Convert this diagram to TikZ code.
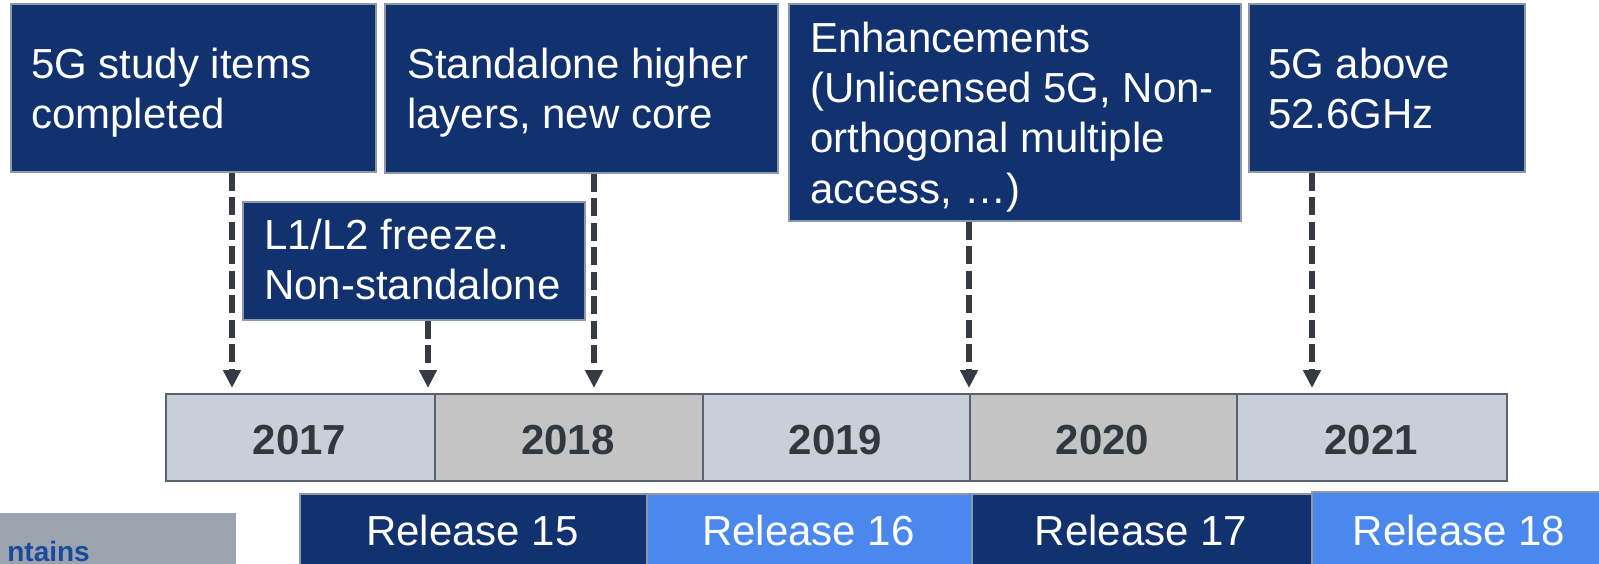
\documentclass[tikz,border=0pt]{standalone}
\usepackage{fontspec}
\setmainfont{Liberation Sans}
\usetikzlibrary{arrows.meta}
\definecolor{navy}{HTML}{11316F}
\definecolor{rblue}{HTML}{4A88EE}
\definecolor{ylight}{HTML}{C8CFD9}
\definecolor{ygrey}{HTML}{C4C4C4}
\definecolor{ytext}{HTML}{333840}
\definecolor{arrc}{HTML}{363A45}
\definecolor{bord}{HTML}{8D98A6}
\definecolor{ybord}{HTML}{5A6270}
\definecolor{notegrey}{HTML}{9AA3AE}
\definecolor{noteblue}{HTML}{1A4A9C}
\begin{document}
\begin{tikzpicture}[x=1pt,y=-1pt,
  evbox/.style={draw=bord, line width=1.5pt, fill=navy, inner sep=0pt, anchor=north west},
  evtext/.style={text=white, font=\fontsize{42}{50.4}\selectfont, align=left, inner sep=0pt, anchor=north west},
  arr/.style={draw=arrc, line width=5.5pt, dash pattern=on 18pt off 6.5pt, -{Triangle[width=17pt,length=18pt]}, shorten >=5pt},
  ycell/.style={draw=ybord, line width=2pt, inner sep=0pt, minimum height=87pt, anchor=north west},
  ylab/.style={text=ytext, font=\fontsize{42}{50.4}\selectfont\bfseries, inner sep=0pt, anchor=base},
  relbox/.style={draw=bord, line width=1.5pt, inner sep=0pt, minimum height=110pt, anchor=north west},
  rlab/.style={text=white, font=\fontsize{42}{50.4}\selectfont, inner sep=0pt, anchor=base}]
\useasboundingbox (0,0) rectangle (1599,563);

% note box (cut off)
\node[fill=notegrey, inner sep=0pt, minimum width=236pt, minimum height=90pt, anchor=north west] (note) at (0,513) {};
\node[text=noteblue, font=\fontsize{28}{34}\selectfont\bfseries, inner sep=0pt, anchor=base east] (notetext) at (90,561) {ntains};

% event boxes
\node[evbox, minimum width=365pt, minimum height=168pt] (b1) at (10,3) {};
\node[evtext] (t1) at (31,42.7) {\strut 5G study items\\completed};
\node[evbox, minimum width=393pt, minimum height=169pt] (b2) at (384,3) {};
\node[evtext] (t2) at (407,42.7) {\strut Standalone higher\\layers, new core};
\node[evbox, minimum width=452pt, minimum height=217pt] (b4) at (788,3) {};
\node[evtext] (t4) at (810,16.7) {\strut Enhancements\\(Unlicensed 5G, Non-\\orthogonal multiple\\access, …)};
\node[evbox, minimum width=276pt, minimum height=168pt] (b5) at (1248,3) {};
\node[evtext] (t5) at (1268,42.7) {\strut 5G above\\52.6GHz};
\node[evbox, minimum width=342pt, minimum height=118pt] (b3) at (242,201) {};
\node[evtext] (t3) at (264,213.7) {\strut L1/L2 freeze.\\Non-standalone};

% year bar
\node[ycell, fill=ylight, minimum width=269pt] (y17) at (165,393) {};
\node[ycell, fill=ygrey,  minimum width=268pt] (y18) at (434,393) {};
\node[ycell, fill=ylight, minimum width=267pt] (y19) at (702,393) {};
\node[ycell, fill=ygrey,  minimum width=267pt] (y20) at (969,393) {};
\node[ycell, fill=ylight, minimum width=270pt] (y21) at (1236,393) {};
\node[ylab] (l17) at (299.5,454) {2017};
\node[ylab] (l18) at (568,454) {2018};
\node[ylab] (l19) at (835.5,454) {2019};
\node[ylab] (l20) at (1102.5,454) {2020};
\node[ylab] (l21) at (1371,454) {2021};

% arrows
\draw[arr] ([xshift=222pt]b1.south west) -- ([xshift=67pt]y17.north west);
\draw[arr] ([xshift=186pt]b3.south west) -- ([xshift=263pt]y17.north west);
\draw[arr] ([xshift=210pt]b2.south west) -- ([xshift=160pt]y18.north west);
\draw[arr] ([xshift=181pt]b4.south west) -- (y20.north west);
\draw[arr] ([xshift=64pt]b5.south west) -- ([xshift=76pt]y21.north west);

% releases
\node[relbox, fill=navy,  minimum width=347pt] (r15) at (299,493) {};
\node[relbox, fill=rblue, minimum width=325pt] (r16) at (646,493) {};
\node[relbox, fill=navy,  minimum width=340pt] (r17) at (971,493) {};
\node[relbox, fill=rblue, minimum width=300pt] (r18) at (1311,491) {};
\node[rlab] (lr15) at (472.5,545) {Release 15};
\node[rlab] (lr16) at (808.5,545) {Release 16};
\node[rlab] (lr17) at (1141,545) {Release 17};
\node[rlab] (lr18) at (1459,545) {Release 18};
\end{tikzpicture}
\end{document}
